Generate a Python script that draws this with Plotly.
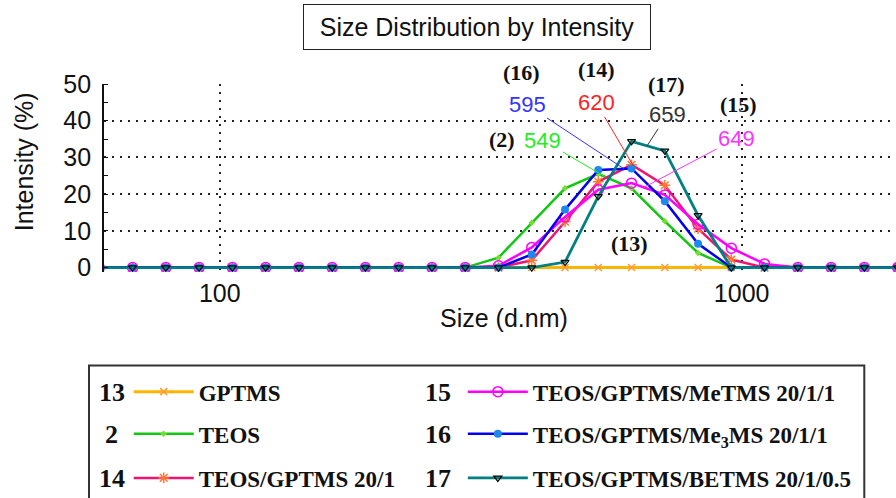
import numpy as np
import plotly.graph_objects as go

# Size bins (d.nm) of the intensity distribution
sizes = [58.77, 68.06, 78.82, 91.28, 105.7, 122.4, 141.8, 164.2, 190.1, 220.2,
         255.0, 295.3, 342.0, 396.1, 458.7, 531.2, 615.1, 712.4, 825.0, 955.4,
         1106, 1281, 1484, 1718, 1990]

# Intensity (%) per bin for each sample
gptms_13 = [0] * 25
teos_2 = [0]*12 + [2.7, 12.2, 21.6, 25.5, 21.6, 12.6, 4.0] + [0]*6
teos_gptms_14 = [0]*13 + [2.0, 12.5, 23.4, 28.0, 22.4, 10.6, 2.2] + [0]*5
metms_15 = [0]*12 + [0.5, 5.5, 13.8, 21.2, 23.0, 19.8, 11.8, 5.3, 1.0] + [0]*4
me3ms_16 = [0]*13 + [3.6, 15.8, 26.6, 27.0, 18.1, 6.5] + [0]*6
betms_17 = [0]*14 + [1.5, 19.4, 34.4, 31.8, 14.2] + [0]*6

sample_ids = ["13", "2", "14", "15", "16", "17"]
sample_names = ["GPTMS", "TEOS", "TEOS/GPTMS 20/1", "TEOS/GPTMS/MeTMS 20/1/1",
                "TEOS/GPTMS/Me<sub>3</sub>MS 20/1/1", "TEOS/GPTMS/BETMS 20/1/0.5"]
series = [gptms_13, teos_2, teos_gptms_14, metms_15, me3ms_16, betms_17]

# Peak sizes quoted on the chart (nm)
peak_ids = ["2", "16", "14", "17", "15"]
peak_sizes = [549, 595, 620, 659, 649]

line_colors = ["#ffb400", "#11c811", "#ee1470", "#ff00ff", "#0000ee", "#008080"]
line_widths = [3, 2.5, 2.5, 2.5, 2.5, 2.8]
markers = [
    dict(symbol="x-thin", size=7, color="#ff9a40", line=dict(width=1.5, color="#ff9a40")),
    dict(symbol="diamond", size=5, color="#77dd33", line=dict(width=0)),
    dict(symbol="asterisk", size=9, color="#ff7733", line=dict(width=1.5, color="#ff7733")),
    dict(symbol="circle-open", size=10, color="#ff00ff", line=dict(width=1.5, color="#ff00ff")),
    dict(symbol="circle", size=8, color="#1e88ee", line=dict(width=0)),
    dict(symbol="triangle-down-open", size=7, color="#000000", line=dict(width=1.2, color="#000000")),
]

W, H = 896, 498
ML, MR, MT, MB = 104.3, 0, 84.3, 226.3
PW, PH = W - ML - MR, H - MT - MB


def fx(px):
    return (px - ML) / PW


def fy(py):
    return (H - MB - py) / PH


fig = go.Figure()

legend_names = ["legend", "legend2", "legend3", "legend4", "legend5", "legend6"]
for i in range(6):
    fig.add_trace(go.Scatter(
        x=sizes, y=series[i], mode="lines+markers", name=sample_names[i],
        line=dict(color=line_colors[i], width=line_widths[i]),
        marker=markers[i], legend=legend_names[i], showlegend=True,
    ))

serif_bold = dict(family="Liberation Serif, Times New Roman, serif", weight="bold", color="#111111")
sans = "Liberation Sans, Arial, sans-serif"

# Legend rows: (column left x, row centre y) for each sample
legend_slots = [(129, 391), (129, 433), (129, 477), (463, 391), (463, 433), (463, 477)]
number_centres = [(112, 392), (112, 434), (112, 478), (438, 392), (438, 434), (438, 478)]
layout_legends = {}
for i, key in enumerate(legend_names):
    lx, ly = legend_slots[i]
    layout_legends[key] = dict(
        x=fx(lx), y=fy(ly), xref="paper", yref="paper",
        xanchor="left", yanchor="middle", bgcolor="rgba(0,0,0,0)",
        borderwidth=0, itemwidth=60,
        font=dict(size=23, **serif_bold),
    )

annotations = []
# Sample numbers in front of each legend entry
for i in range(6):
    nx, ny = number_centres[i]
    annotations.append(dict(
        text=sample_ids[i], x=fx(nx), y=fy(ny), xref="paper", yref="paper",
        showarrow=False, xanchor="center", yanchor="middle",
        font=dict(size=26, **serif_bold),
    ))

# Peak size callouts pointing at each curve
peak_series = {"2": teos_2, "16": me3ms_16, "14": teos_gptms_14, "17": betms_17, "15": metms_15}
peak_colors = {"2": "#22ee22", "16": "#3333ff", "14": "#ff2222", "17": "#333333", "15": "#ff33ff"}
peak_offsets = {"2": (-63, -37), "16": (-97, -64), "14": (-37, -63), "17": (20, -31), "15": (93, -49)}
logs = np.log10(sizes)
for pid, psize in zip(peak_ids, peak_sizes):
    yv = float(np.interp(np.log10(psize), logs, peak_series[pid]))
    ax, ay = peak_offsets[pid]
    annotations.append(dict(
        text=str(psize), x=np.log10(psize), y=yv, xref="x", yref="y",
        showarrow=True, arrowhead=0, arrowwidth=1, arrowcolor=peak_colors[pid],
        ax=ax, ay=ay, standoff=0, startstandoff=0,
        font=dict(size=22, family=sans, color=peak_colors[pid]),
    ))

# Sample tags next to the callouts
tag_pos = [("(16)", 521.7, 73.3), ("(14)", 596.7, 70), ("(17)", 666.7, 85),
           ("(15)", 738.3, 105), ("(2)", 501.7, 139.3), ("(13)", 630, 243.3)]
for t, px, py in tag_pos:
    annotations.append(dict(
        text=t, x=fx(px), y=fy(py), xref="paper", yref="paper", showarrow=False,
        xanchor="center", yanchor="middle", font=dict(size=22, **serif_bold),
    ))

# Boxed chart title
annotations.append(dict(
    text="Size Distribution by Intensity", x=fx(476.7), y=fy(27.8),
    xref="paper", yref="paper", showarrow=False, xanchor="center", yanchor="middle",
    width=338, height=36, borderpad=4, bordercolor="#222222", borderwidth=1,
    bgcolor="white", font=dict(size=25, family=sans, color="#111111"),
))
# Axis titles
annotations.append(dict(
    text="Intensity (%)", x=fx(24), y=fy(161.7), xref="paper", yref="paper",
    showarrow=False, textangle=-90, xanchor="center", yanchor="middle",
    font=dict(size=25, family=sans, color="#111111"),
))
annotations.append(dict(
    text="Size (d.nm)", x=fx(504), y=fy(318), xref="paper", yref="paper",
    showarrow=False, xanchor="center", yanchor="middle",
    font=dict(size=25, family=sans, color="#111111"),
))

shapes = [dict(
    type="rect", xref="paper", yref="paper",
    x0=fx(89.3), x1=fx(864.3), y0=fy(365), y1=fy(530),
    line=dict(color="#333333", width=2), fillcolor="rgba(0,0,0,0)", layer="below",
)]

x_lo = np.log10(60)
fig.update_layout(
    width=W, height=H,
    margin=dict(l=ML, r=MR, t=MT, b=MB, pad=0, autoexpand=False),
    paper_bgcolor="white", plot_bgcolor="white",
    annotations=annotations, shapes=shapes,
    **layout_legends,
)
fig.update_xaxes(
    type="log", range=[x_lo, x_lo + PW / 521.7],
    tickvals=[100, 1000], ticktext=["100", "1000"], ticks="", tickangle=0,
    tickfont=dict(size=25, family=sans, color="#111111"), ticklabelstandoff=4,
    showgrid=True, gridcolor="#222222", gridwidth=1.5, griddash="2px,6px",
    showline=False, zeroline=False, automargin=False,
)
fig.update_yaxes(
    range=[-1.2, 50], tickvals=[0, 10, 20, 30, 40, 50], ticks="",
    tickfont=dict(size=25, family=sans, color="#111111"), ticklabelstandoff=6,
    showgrid=True, gridcolor="#222222", gridwidth=1.5, griddash="2px,6px",
    showline=True, linecolor="#111111", linewidth=1.7, zeroline=False, automargin=False,
    minor=dict(dtick=5, tick0=0, ticks="inside", ticklen=4, tickcolor="#111111", showgrid=False),
)

fig.write_html("out.html")
